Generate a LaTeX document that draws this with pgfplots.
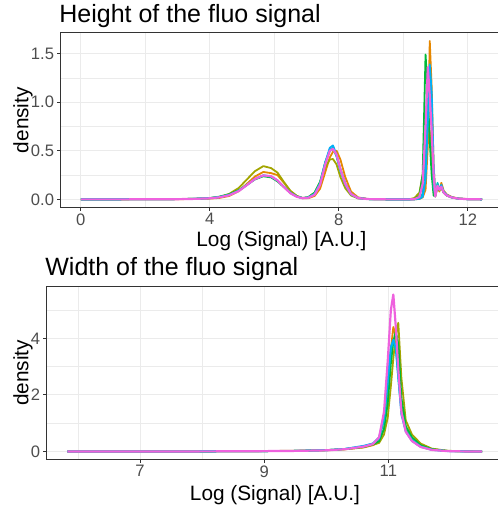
\documentclass[border=0pt]{standalone}
\usepackage{fontspec}
\setmainfont{Liberation Sans}
\usepackage{pgfplots}
\usepackage{pgfplotstable}
\pgfplotsset{compat=1.18}
\definecolor{cA}{HTML}{E58700}
\definecolor{cB}{HTML}{A3A500}
\definecolor{cC}{HTML}{00BA38}
\definecolor{cD}{HTML}{00BFC4}
\definecolor{cE}{HTML}{00B0F6}
\definecolor{cF}{HTML}{EE62DE}
\definecolor{gridc}{HTML}{EBEBEB}
\definecolor{tickc}{HTML}{333333}
\definecolor{labc}{HTML}{4D4D4D}

\pgfplotstableread{
x a b c d e f
0 0 0 0 0 0 0
1 0 0 0 0 0 0
2 0.0005 0.001 0.001 0.001 0.001 0.0005
3 0.002 0.003 0.003 0.003 0.003 0.002
3.5 0.004 0.006 0.006 0.006 0.005 0.005
4.0 0.008 0.013 0.014 0.013 0.012 0.011
4.3 0.015 0.026 0.028 0.025 0.023 0.021
4.6 0.035 0.056 0.052 0.047 0.044 0.042
4.9 0.085 0.118 0.095 0.09 0.088 0.086
5.15 0.16 0.205 0.15 0.148 0.148 0.147
5.4 0.235 0.29 0.205 0.21 0.21 0.21
5.66 0.282 0.342 0.238 0.245 0.247 0.247
5.9 0.27 0.322 0.226 0.236 0.236 0.238
6.1 0.25 0.275 0.185 0.193 0.195 0.195
6.3 0.17 0.178 0.125 0.128 0.13 0.126
6.5 0.085 0.088 0.067 0.066 0.067 0.063
6.7 0.032 0.036 0.03 0.028 0.029 0.026
6.88 0.012 0.014 0.014 0.013 0.013 0.012
7.05 0.012 0.022 0.022 0.019 0.019 0.016
7.25 0.035 0.07 0.068 0.058 0.056 0.048
7.42 0.11 0.18 0.18 0.17 0.16 0.15
7.58 0.28 0.33 0.38 0.38 0.38 0.36
7.72 0.43 0.41 0.50 0.51 0.53 0.50
7.82 0.49 0.415 0.52 0.53 0.555 0.52
7.93 0.50 0.36 0.45 0.44 0.46 0.46
8.05 0.41 0.23 0.31 0.29 0.31 0.31
8.2 0.23 0.115 0.16 0.15 0.165 0.16
8.38 0.08 0.04 0.055 0.05 0.055 0.055
8.6 0.02 0.01 0.015 0.012 0.014 0.013
8.9 0.004 0.003 0.003 0.003 0.003 0.003
9.5 0 0 0 0 0 0
10.2 0 0.002 0 0 0 0
10.35 0 0.015 0.006 0.002 0 0.003
10.5 0.005 0.07 0.035 0.012 0.006 0.025
10.6 0.02 0.25 0.26 0.06 0.025 0.16
10.69 0.1 0.6 1.49 0.38 0.2 0.75
10.76 0.55 0.85 1.1 1.05 0.8 1.36
10.82 1.63 0.7 0.6 1.3 1.39 1.07
10.88 1.15 0.45 0.25 0.8 1.1 0.7
10.94 0.35 0.1 0.04 0.12 0.35 0.26
10.99 0.06 0.03 0.03 0.04 0.05 0.03
11.06 0.12 0.13 0.15 0.17 0.12 0.14
11.12 0.08 0.09 0.1 0.11 0.1 0.1
11.18 0.17 0.13 0.12 0.13 0.15 0.13
11.25 0.09 0.07 0.07 0.07 0.08 0.07
11.35 0.05 0.04 0.04 0.04 0.045 0.04
11.5 0.025 0.02 0.02 0.02 0.02 0.02
11.7 0.01 0.008 0.008 0.008 0.008 0.008
12.0 0.003 0.002 0.002 0.002 0.002 0.002
12.44 0 0 0 0 0 0
}\tabH

\pgfplotstableread{
x a b c d e f
5.83 0 0 0 0 0 0
7.0 0 0 0 0 0 0
8.0 0.002 0.002 0.002 0.002 0.002 0.002
8.8 0.008 0.01 0.008 0.008 0.008 0.008
9.5 0.02 0.025 0.02 0.02 0.02 0.02
10.0 0.04 0.05 0.045 0.045 0.045 0.04
10.3 0.075 0.08 0.085 0.09 0.09 0.08
10.6 0.14 0.15 0.16 0.18 0.2 0.17
10.75 0.22 0.24 0.25 0.28 0.28 0.26
10.85 0.33 0.3 0.36 0.45 0.5 0.5
10.93 0.8 0.6 0.8 1.1 1.2 1.4
10.99 2.0 1.2 1.7 2.4 2.5 3.2
11.04 3.6 2.3 3.1 3.6 3.7 5.0
11.08 4.4 3.3 3.9 3.95 3.95 5.55
11.12 4.1 4.1 4.25 3.6 3.7 4.4
11.16 2.9 4.55 3.8 2.6 2.6 2.9
11.21 1.6 2.6 1.9 1.4 1.3 1.4
11.28 0.85 1.1 0.9 0.75 0.7 0.7
11.38 0.48 0.6 0.5 0.42 0.37 0.37
11.52 0.22 0.28 0.22 0.18 0.16 0.16
11.7 0.08 0.1 0.08 0.065 0.055 0.055
11.95 0.02 0.025 0.02 0.015 0.012 0.012
12.2 0.004 0.005 0.004 0.003 0.002 0.002
12.51 0 0 0 0 0 0
}\tabW

\pgfplotsset{
  ggstyle/.style={
    scale only axis, anchor=south west,
    axis line style={draw=tickc, line width=1.0bp},
    grid=both,
    major grid style={draw=gridc, line width=1.0bp},
    minor grid style={draw=gridc, line width=0.5bp},
    tick align=outside, major tick length=3.5bp, minor tick length=0pt,
    xtick pos=lower, ytick pos=left,
    major tick style={draw=tickc, line width=1bp},
    /pgf/number format/assume math mode=true,
    ticklabel style={font=\fontsize{16.6bp}{18bp}\selectfont, text=labc, inner sep=0pt},
    xticklabel style={yshift=-2.5bp},
    yticklabel style={xshift=-3bp},
    label style={font=\fontsize{20.8bp}{24bp}\selectfont, inner sep=0pt},
    title style={font=\fontsize{25bp}{28bp}\selectfont, inner sep=0pt, anchor=base west, xshift=-1.5bp, yshift=-4bp},
    every axis plot/.append style={line width=1.8bp, no marks, line join=round},
    ylabel={density}, xlabel={Log (Signal) [A.U.]},
  }
}

\begin{document}
\begin{tikzpicture}
\begin{axis}[ggstyle,
  at={(60.7bp,297.7bp)}, width=441.3bp, height=174.3bp,
  xmin=-0.622, xmax=13.06, ymin=-0.0815, ymax=1.7115,
  xtick={0,4,8,12}, xticklabels={0,4,8,12}, minor xtick={2,6,10},
  ytick={0,0.5,1,1.5}, yticklabels={0.0,0.5,1.0,1.5}, minor ytick={0.25,0.75,1.25},
  title={Height of the fluo signal},
  title style={at={(axis description cs:0,1.049)}},
  xlabel style={at={(axis description cs:0.5,-0.224)}, anchor=base},
  ylabel style={at={(axis description cs:-0.0734,0.5)}, anchor=base},
]
\addplot[cA] table[x=x,y=a]{\tabH};
\addplot[cB] table[x=x,y=b]{\tabH};
\addplot[cC] table[x=x,y=c]{\tabH};
\addplot[cD] table[x=x,y=d]{\tabH};
\addplot[cE] table[x=x,y=e]{\tabH};
\addplot[cF, line width=2.2bp] table[x=x,y=f]{\tabH};
\end{axis}
\begin{axis}[ggstyle,
  at={(46.7bp,45.7bp)}, width=456.5bp, height=172.6bp,
  xmin=5.496, xmax=12.85, ymin=-0.2775, ymax=5.8275,
  xtick={7,9,11}, xticklabels={7,9,11}, minor xtick={6,8,10,12},
  ytick={0,2,4}, yticklabels={0,2,4}, minor ytick={1,3,5},
  title={Width of the fluo signal},
  title style={at={(axis description cs:0,1.052)}},
  xlabel style={at={(axis description cs:0.5,-0.236)}, anchor=base},
  ylabel style={at={(axis description cs:-0.0403,0.5)}, anchor=base},
]
\addplot[cA] table[x=x,y=a]{\tabW};
\addplot[cB] table[x=x,y=b]{\tabW};
\addplot[cC] table[x=x,y=c]{\tabW};
\addplot[cD] table[x=x,y=d]{\tabW};
\addplot[cE] table[x=x,y=e]{\tabW};
\addplot[cF, line width=2.2bp] table[x=x,y=f]{\tabW};
\end{axis}
\pgfresetboundingbox
\useasboundingbox (0,0) rectangle (498bp,505bp);
\end{tikzpicture}
\end{document}
